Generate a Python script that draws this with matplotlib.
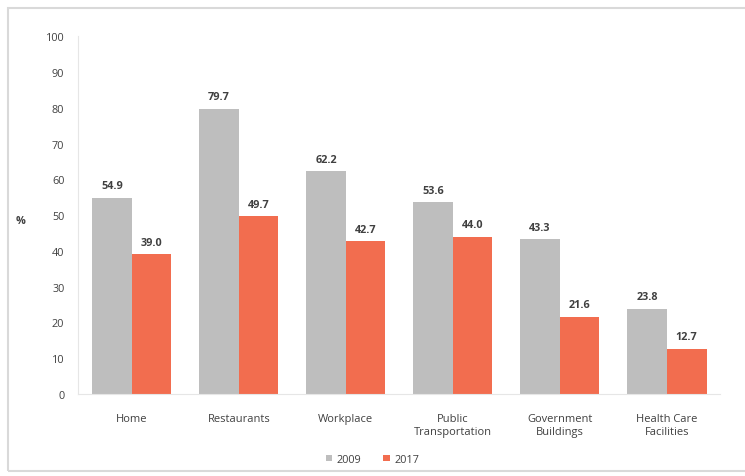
import matplotlib.pyplot as plt
import numpy as np
from matplotlib.patches import Rectangle

categories = ["Home", "Restaurants", "Workplace", "Public\nTransportation",
              "Government\nBuildings", "Health Care\nFacilities"]
vals_2009 = [54.9, 79.7, 62.2, 53.6, 43.3, 23.8]
vals_2017 = [39.0, 49.7, 42.7, 44.0, 21.6, 12.7]
years = ["2009", "2017"]

GRAY = "#BEBEBE"
ORANGE = "#F26D4F"
TEXT = "#404040"

plt.rcParams["font.family"] = ["Open Sans", "DejaVu Sans"]

fig = plt.figure(figsize=(7.45, 4.77), dpi=100)
ax = fig.add_axes([0.105, 0.172, 0.862, 0.75])

x = np.arange(len(categories))
w = 0.37
b1 = ax.bar(x - w / 2, vals_2009, w, color=GRAY, label=years[0])
b2 = ax.bar(x + w / 2, vals_2017, w, color=ORANGE, label=years[1])

for bars in (b1, b2):
    for rect in bars:
        h = rect.get_height()
        ax.text(rect.get_x() + rect.get_width() / 2, h + 1.8, f"{h:.1f}",
                ha="center", va="bottom", fontsize=7.8, fontweight="bold",
                color=TEXT)

ax.set_xlim(-0.5, len(categories) - 0.5)
ax.set_ylim(0, 100)
ax.set_yticks(range(0, 101, 10))
ax.set_xticks(x)
ax.set_xticklabels(categories, fontsize=8, color=TEXT, linespacing=1.25)
ax.tick_params(axis="y", labelsize=7.8, labelcolor=TEXT, length=0, pad=10)
ax.tick_params(axis="x", length=0, pad=14)

for s in ["top", "right"]:
    ax.spines[s].set_visible(False)
ax.spines["left"].set_color("#E6E6E6")
ax.spines["bottom"].set_color("#E6E6E6")

fig.text(0.027, 0.535, "%", fontsize=7.8, fontweight="bold", color=TEXT,
         ha="center", va="center")

fig.legend(loc="center", bbox_to_anchor=(0.5, 0.035), ncol=2, frameon=False,
           fontsize=7.8, handlelength=0.6, handleheight=0.6,
           columnspacing=2.0, handletextpad=0.4, labelcolor=TEXT)

# outer frame around the chart area
fig.patches.append(Rectangle((8 / 745, 1 - 472 / 477), 1.0, (472 - 9) / 477,
                             transform=fig.transFigure, fill=False,
                             edgecolor="#D9D9D9", linewidth=1.5))

fig.savefig("out.png", dpi=100)
